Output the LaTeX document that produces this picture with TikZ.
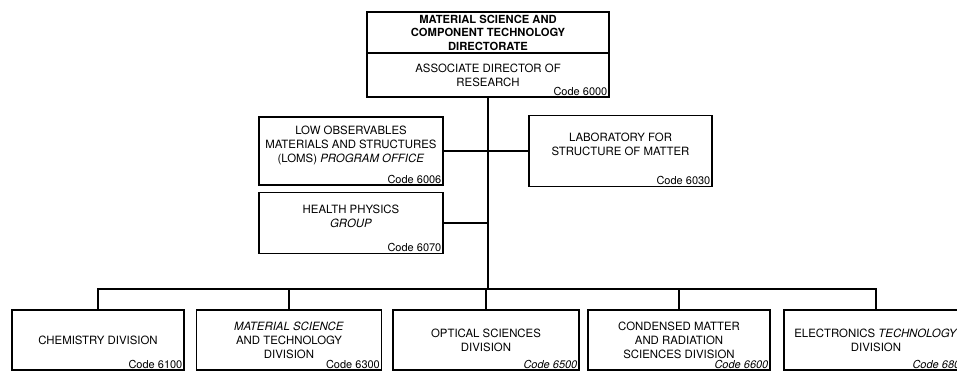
\documentclass[tikz,border=0pt]{standalone}
\usepackage{fontspec}
\setmainfont{TeX Gyre Heros}
\usetikzlibrary{positioning}

\begin{document}
\begin{tikzpicture}[x=1pt, y=1pt,
    caja/.style={draw, line width=1.5pt, inner sep=0pt, align=center,
                 font=\fontsize{11.4}{14}\selectfont},
    codigo/.style={anchor=south east, inner sep=2.2pt,
                   font=\fontsize{11}{13}\selectfont},
    enlace/.style={line width=1.6pt}]
    \useasboundingbox (0,0) rectangle (957,373);
    \clip (0,0) rectangle (957,373);

    % Direccion
    \node[caja, minimum width=242, minimum height=41,
          font=\fontsize{11.2}{13.5}\selectfont\bfseries] (dir) at (488,340.5)
        {MATERIAL SCIENCE AND\\COMPONENT TECHNOLOGY\\DIRECTORATE};
    \node[caja, minimum width=242, minimum height=44] (ado) at (488,298)
        {ASSOCIATE DIRECTOR OF\\RESEARCH};
    \node[codigo] at (ado.south east) {Code 6000};

    % Oficinas
    \node[caja, minimum width=184, minimum height=68] (loms) at (351,222)
        {LOW OBSERVABLES\\MATERIALS AND STRUCTURES\\(LOMS) \textit{PROGRAM OFFICE}\\~};
    \node[codigo] at (loms.south east) {Code 6006};
    \node[caja, minimum width=183, minimum height=71] (lab) at (620.5,222)
        {LABORATORY FOR\\STRUCTURE OF MATTER\\~};
    \node[codigo] at (lab.south east) {Code 6030};
    \node[caja, minimum width=184, minimum height=61] (hpg) at (351,150)
        {HEALTH PHYSICS\\\textit{GROUP}\\~};
    \node[codigo] at (hpg.south east) {Code 6070};

    % Divisiones
    \node[caja, minimum width=172, minimum height=60] (chem) at (98,33)
        {CHEMISTRY DIVISION};
    \node[codigo] at (chem.south east) {Code 6100};
    \node[caja, minimum width=185, minimum height=60] (mst) at (289,33)
        {\textit{MATERIAL SCIENCE}\\AND TECHNOLOGY\\DIVISION};
    \node[codigo] at (mst.south east) {Code 6300};
    \node[caja, minimum width=186, minimum height=60] (osd) at (486,33)
        {OPTICAL SCIENCES\\DIVISION};
    \node[codigo] at (osd.south east) {\textit{Code 6500}};
    \node[caja, minimum width=182, minimum height=60] (cmr) at (679,33)
        {CONDENSED MATTER\\AND RADIATION\\SCIENCES DIVISION};
    \node[codigo] at (cmr.south east) {\textit{Code 6600}};
    \node[caja, minimum width=184, minimum height=60] (etd) at (876,33)
        {ELECTRONICS \textit{TECHNOLOGY}\\DIVISION};
    \node[codigo] at (etd.south east) {\textit{Code 6800}};

    % Lineas
    \coordinate (bus) at (ado.south |- 0,84);
    \draw[enlace] (ado.south) -- (bus);
    \draw[enlace] (loms.east) -- (lab.west);
    \draw[enlace] (hpg.east) -- (hpg.east -| bus);
    \draw[enlace] (chem.north) |- (bus) -| (etd.north);
    \foreach \d in {mst,osd,cmr}
        \draw[enlace] (\d.north) -- (\d.north |- bus);
\end{tikzpicture}
\end{document}
